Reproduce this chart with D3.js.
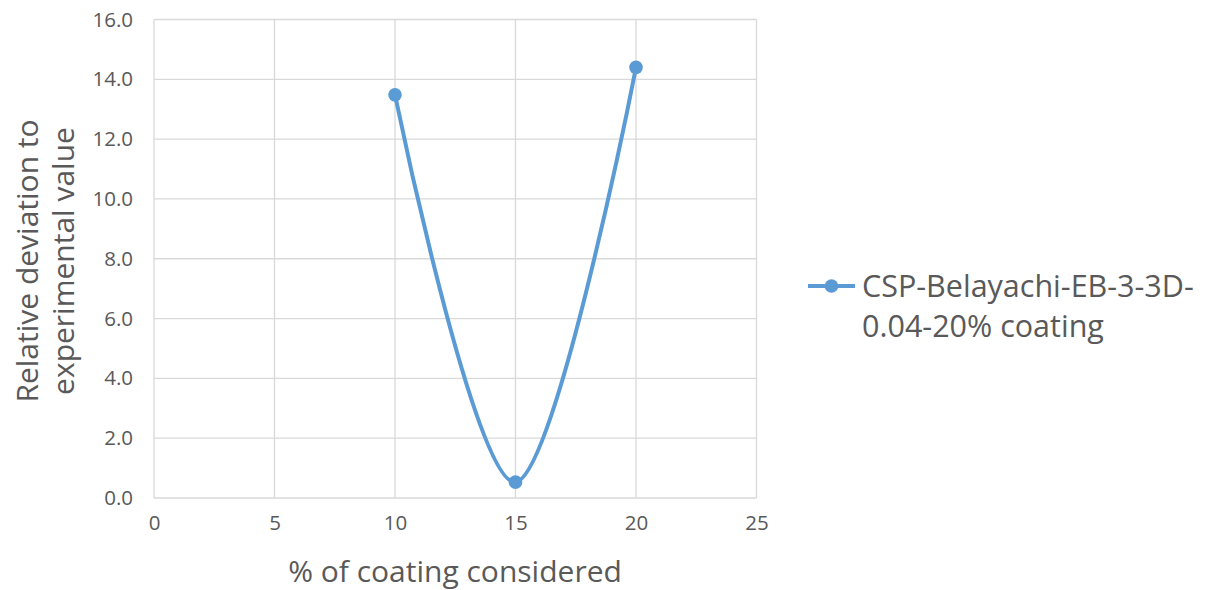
<html>
<head>
<title>Relative deviation chart</title>
<script src="https://cdn.jsdelivr.net/npm/d3@7"></script>
<style>
  body { margin: 0; background: #fff; }
  text { font-family: "Open Sans", "Liberation Sans", sans-serif; fill: #595959; }
</style>
</head>
<body>
<div id="chart"></div>
<script>
	// data
	var coating = [10, 15, 20];
	var deviation = [13.48, 0.53, 14.4];
	var x_ticks = [0, 5, 10, 15, 20, 25];
	var y_ticks = [0, 2, 4, 6, 8, 10, 12, 14, 16];
	var series_name = ["CSP-Belayachi-EB-3-3D-", "0.04-20% coating"];

	var W = 1209, H = 590;
	var p_left = 154, p_right = 756.5, p_top = 19.5, p_bottom = 498;
	var blue = "#5b9bd5";

	var svg = d3.select("#chart").append("svg")
		.attr("width", W)
		.attr("height", H);

	var x = d3.scaleLinear().domain([0, 25]).range([p_left, p_right]);
	var y = d3.scaleLinear().domain([0, 16]).range([p_bottom, p_top]);

	// gridlines
	svg.append("g")
		.selectAll("line")
		.data(y_ticks)
		.enter()
		.append("line")
		.attr("x1", p_left).attr("x2", p_right)
		.attr("y1", function(d) { return y(d); })
		.attr("y2", function(d) { return y(d); })
		.attr("stroke", "#d9d9d9")
		.attr("stroke-width", 1.3);

	svg.append("g")
		.selectAll("line")
		.data(x_ticks)
		.enter()
		.append("line")
		.attr("y1", p_top).attr("y2", p_bottom)
		.attr("x1", function(d) { return x(d); })
		.attr("x2", function(d) { return x(d); })
		.attr("stroke", "#d9d9d9")
		.attr("stroke-width", 1.3);

	// y tick labels
	var y_axis = svg.append("g")
		.attr("transform", "translate(" + p_left + ",0)")
		.call(d3.axisLeft(y).tickValues(y_ticks).tickSize(0).tickPadding(21).tickFormat(d3.format(".1f")));
	y_axis.select(".domain").remove();
	y_axis.selectAll("text").style("font-size", "20.5px").style("fill", "#595959")
		.style("font-family", "'Open Sans', sans-serif");

	// x tick labels
	var x_axis = svg.append("g")
		.attr("transform", "translate(0," + p_bottom + ")")
		.call(d3.axisBottom(x).tickValues(x_ticks).tickSize(0).tickPadding(17));
	x_axis.select(".domain").remove();
	x_axis.selectAll("text").style("font-size", "20.5px").style("fill", "#595959")
		.style("font-family", "'Open Sans', sans-serif");

	// axis titles
	svg.append("text")
		.attr("x", 455)
		.attr("y", 582)
		.attr("font-size", "30px")
		.attr("text-anchor", "middle")
		.text("% of coating considered");

	var yt = svg.append("text")
		.attr("transform", "translate(0,261) rotate(-90)")
		.attr("font-size", "30px")
		.attr("text-anchor", "middle");
	yt.append("tspan").attr("x", 0).attr("y", 38).text("Relative deviation to");
	yt.append("tspan").attr("x", 0).attr("y", 74).text("experimental value");

	// the series
	var pts = coating.map(function(d, i) { return [d, deviation[i]]; });
	var line = d3.line()
		.x(function(d) { return x(d[0]); })
		.y(function(d) { return y(d[1]); })
		.curve(d3.curveCardinal.tension(0));

	svg.append("path")
		.datum(pts)
		.attr("d", line)
		.attr("fill", "none")
		.attr("stroke", blue)
		.attr("stroke-width", 4)
		.attr("stroke-linecap", "round");

	svg.selectAll(".datum")
		.data(pts)
		.enter()
		.append("circle")
		.attr("class", "datum")
		.attr("cx", function(d) { return x(d[0]); })
		.attr("cy", function(d) { return y(d[1]); })
		.attr("r", 6.8)
		.attr("fill", blue);

	// legend
	var lg = svg.append("g").attr("transform", "translate(808,286)");
	lg.append("line")
		.attr("x1", 0).attr("x2", 47)
		.attr("y1", 0).attr("y2", 0)
		.attr("stroke", blue)
		.attr("stroke-width", 4);
	lg.append("circle")
		.attr("cx", 23.5).attr("cy", 0).attr("r", 6.8)
		.attr("fill", blue);
	lg.selectAll("text")
		.data(series_name)
		.enter()
		.append("text")
		.attr("x", 54)
		.attr("y", function(d, i) { return 11 + i * 40; })
		.attr("font-size", "30.5px")
		.text(function(d) { return d; });
</script>
</body>
</html>
